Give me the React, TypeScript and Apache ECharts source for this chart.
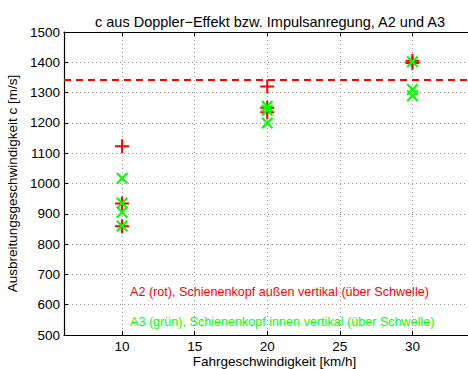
import React, { useEffect, useRef } from "react";
import * as echarts from "echarts";

const titleText = "c aus Doppler\u2212Effekt bzw. Impulsanregung, A2 und A3";
const xName = "Fahrgeschwindigkeit [km/h]";
const yName = "Ausbreitungsgeschwindigkeit c [m/s]";
const redLabel = "A2 (rot), Schienenkopf außen vertikal (über Schwelle)";
const greenLabel = "A3 (grün), Schienenkopf innen vertikal (über Schwelle)";

const redSpeeds = [10, 10, 10, 20, 20, 20, 30, 30];
const redValues = [1123, 934, 859, 1320, 1250, 1235, 1405, 1398];
const greenSpeeds = [10, 10, 10, 10, 20, 20, 20, 30, 30, 30];
const greenValues = [1017, 936, 905, 860, 1255, 1242, 1200, 1402, 1310, 1290];
const referenceSpeed = [1343];

const xRange = [6, 35];
const yRange = [500, 1500];

const PLUS = "path://M6,0H8V6H14V8H8V14H6V8H0V6H6Z";
const CROSS = "path://M0,1.5L1.5,0L6,4.5L10.5,0L12,1.5L7.5,6L12,10.5L10.5,12L6,7.5L1.5,12L0,10.5L4.5,6Z";

const FONT = "Liberation Sans, Arial, sans-serif";

export default function App() {
  const ref = useRef<HTMLDivElement>(null);
  useEffect(() => {
    if (!ref.current) return;
    const chart = echarts.init(ref.current, null, { renderer: "svg" });
    const grid = { left: 64, top: 32, width: 421, height: 303, outerBoundsMode: "none", containLabel: false };
    const splitLine = { show: true, lineStyle: { color: "#9a9a9a", type: [1, 3] as any, width: 1 } };
    chart.setOption({
      animation: false,
      backgroundColor: "#ffffff",
      textStyle: { fontFamily: FONT },
      title: {
        text: titleText,
        left: 90,
        top: 9,
        textStyle: { fontSize: 14.5, fontWeight: "normal", color: "#000", fontFamily: FONT },
      },
      grid,
      xAxis: [
        {
          type: "value",
          min: xRange[0],
          max: xRange[1],
          splitNumber: 5,
          name: xName,
          nameLocation: "middle",
          nameGap: 19,
          nameMoveOverlap: false,
          nameTextStyle: { fontSize: 13.5, color: "#000", fontFamily: FONT },
          axisLine: { show: true, onZero: false, lineStyle: { color: "#000", width: 1.2 } },
          axisTick: { show: true, inside: true, length: 4, lineStyle: { color: "#000" } },
          axisLabel: { fontSize: 13.5, color: "#000", margin: 4, showMinLabel: false, showMaxLabel: false, fontFamily: FONT },
          splitLine,
        },
        {
          type: "value",
          position: "top",
          min: xRange[0],
          max: xRange[1],
          splitNumber: 5,
          axisLine: { show: true, onZero: false, lineStyle: { color: "#000", width: 1.2 } },
          axisTick: { show: true, inside: true, length: 4, lineStyle: { color: "#000" } },
          axisLabel: { show: false },
          splitLine: { show: false },
        },
      ],
      yAxis: {
        type: "value",
        min: yRange[0],
        max: yRange[1],
        interval: 100,
        name: yName,
        nameLocation: "middle",
        nameGap: 45,
        nameTextStyle: { fontSize: 13.5, color: "#000", fontFamily: FONT },
        axisLine: { show: true, onZero: false, lineStyle: { color: "#000", width: 1.2 } },
        axisTick: { show: true, inside: true, length: 4, lineStyle: { color: "#000" } },
        axisLabel: { fontSize: 13.5, color: "#000", margin: 4, fontFamily: FONT, formatter: (v: number) => String(v) },
        splitLine,
      },
      graphic: [
        {
          type: "text",
          left: 130,
          top: 285,
          style: { text: redLabel, fill: "#ff0000", font: `12.6px ${FONT}` },
        },
        {
          type: "text",
          left: 130,
          top: 315,
          style: { text: greenLabel, fill: "#00ff00", font: `12.6px ${FONT}` },
        },
      ],
      series: [
        {
          type: "scatter",
          name: "A2",
          symbol: PLUS,
          symbolSize: 14,
          itemStyle: { color: "#ff0000", opacity: 1 },
          data: redSpeeds.map((s, i) => [s, redValues[i]]),
          markLine: {
            silent: true,
            symbol: "none",
            label: { show: false },
            lineStyle: { color: "#ff0000", type: [7, 5] as any, width: 2 },
            data: referenceSpeed.map((v) => ({ yAxis: v })),
          },
        },
        {
          type: "scatter",
          name: "A3",
          symbol: CROSS,
          symbolSize: 12,
          itemStyle: { color: "#00ff00", opacity: 1 },
          data: greenSpeeds.map((s, i) => [s, greenValues[i]]),
        },
      ],
    });
    return () => chart.dispose();
  }, []);
  return (
    <div
      ref={ref}
      style={{ position: "fixed", left: 0, top: 0, width: 468, height: 369, background: "#fff" }}
    />
  );
}
